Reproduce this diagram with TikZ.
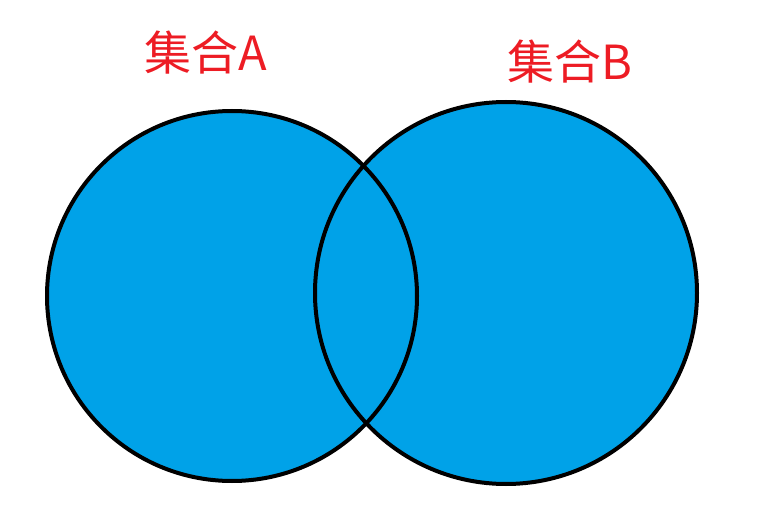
\documentclass[tikz,border=0pt]{standalone}
\usepackage{fontspec}
\newfontfamily\cjk{Noto Sans CJK SC}
\usetikzlibrary{positioning}
\definecolor{setfill}{RGB}{0,162,232}
\definecolor{setlabel}{RGB}{237,28,36}
\tikzset{
  setarea/.style={fill=setfill},
  setedge/.style={draw=black, line width=4pt},
  setname/.style={text=setlabel, font=\cjk\fontsize{47}{54}\selectfont, inner sep=0pt}
}
\begin{document}
\begin{tikzpicture}[x=1pt, y=-1pt]
  \useasboundingbox (0,0) rectangle (772,516);

  % circle centres
  \coordinate (cA) at (232,296);
  \coordinate (cB) at (506,293);

  \fill[setarea] (cA) circle[radius=185pt];
  \fill[setarea] (cB) circle[radius=191pt];
  \draw[setedge] (cA) circle[radius=185pt];
  \draw[setedge] (cB) circle[radius=191pt];

  \node[setname] (labelA) at (206,53) {集合A};
  \node[setname] (labelB) at (570,62) {集合B};
\end{tikzpicture}
\end{document}
